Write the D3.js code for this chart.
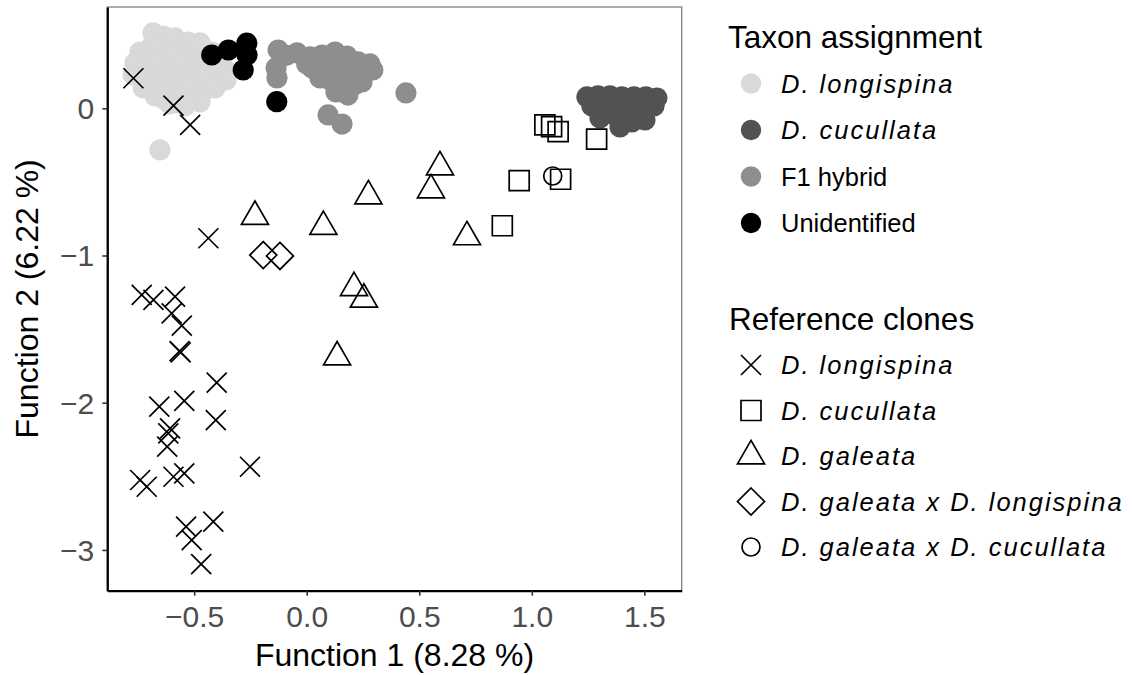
<!DOCTYPE html>
<html>
<head>
<meta charset="utf-8">
<script src="https://cdn.jsdelivr.net/npm/d3@7"></script>
<style>
  html, body { margin: 0; padding: 0; background: #ffffff; }
  svg { display: block; font-family: "Liberation Sans", Arial, Helvetica, sans-serif; }
</style>
</head>
<body>
<svg id="chart" width="1132" height="675"></svg>
<script>
// Axis limits and ticks
const xLimits = [-0.886, 1.666];
const yLimits = [-3.277, 0.688];
const xTicks = [-0.5, 0, 0.5, 1, 1.5];
const yTicks = [0, -1, -2, -3];
const xTitle = "Function 1 (8.28 %)";
const yTitle = "Function 2 (6.22 %)";

// Taxon assignment (filled circles), [Function 1, Function 2]
const taxonLabels = ["D. longispina", "D. cucullata", "F1 hybrid", "Unidentified"];
const taxonItalic = [true, true, false, false];
const taxonColors = ["#d9d9d9", "#525252", "#8e8e8e", "#000000"];

const taxonLongispina = [
  [-0.683, 0.512], [-0.638, 0.491], [-0.585, 0.478], [-0.527, 0.450], [-0.474, 0.444],
  [-0.741, 0.382], [-0.696, 0.410], [-0.643, 0.416], [-0.585, 0.396], [-0.527, 0.382],
  [-0.474, 0.396], [-0.421, 0.382], [-0.376, 0.342],
  [-0.763, 0.308], [-0.709, 0.315], [-0.652, 0.315], [-0.599, 0.308], [-0.541, 0.308],
  [-0.483, 0.315], [-0.429, 0.308], [-0.367, 0.274],
  [-0.771, 0.226], [-0.718, 0.240], [-0.660, 0.226], [-0.608, 0.219], [-0.549, 0.233],
  [-0.496, 0.226], [-0.438, 0.219], [-0.385, 0.206], [-0.358, 0.192],
  [-0.726, 0.138], [-0.674, 0.138], [-0.616, 0.124], [-0.563, 0.138], [-0.505, 0.145],
  [-0.452, 0.124], [-0.407, 0.138],
  [-0.674, 0.084], [-0.629, 0.056], [-0.572, 0.036], [-0.518, 0.056], [-0.474, 0.043],
  [-0.541, 0.016], [-0.608, 0.029],
  [-0.652, -0.283]
];

const taxonUnidentified = [
  [-0.422, 0.362], [-0.348, 0.396], [-0.266, 0.442], [-0.265, 0.362], [-0.282, 0.260],
  [-0.133, 0.045], [0.028, 0.328]
];

const taxonF1 = [
  [-0.127, 0.396], [-0.136, 0.274], [-0.132, 0.206], [-0.043, 0.376], [0.015, 0.349],
  [0.068, 0.362], [0.126, 0.382], [0.179, 0.355], [0.228, 0.315], [0.281, 0.301],
  [0.294, 0.260], [0.024, 0.274], [0.081, 0.281], [0.139, 0.287], [0.201, 0.247],
  [0.254, 0.233], [0.103, 0.192], [0.161, 0.179], [0.219, 0.165], [0.130, 0.111],
  [0.183, 0.090], [0.059, 0.206], [0.246, 0.179], [0.441, 0.104], [0.095, -0.045],
  [0.157, -0.107], [0.000, 0.300], [0.110, 0.330], [0.170, 0.300], [0.230, 0.270],
  [0.080, 0.230], [0.140, 0.230], [0.190, 0.200], [0.160, 0.130], [-0.090, 0.360]
];

const taxonCucullata = [
  [1.245, 0.077], [1.294, 0.084], [1.347, 0.084], [1.400, 0.077], [1.454, 0.077],
  [1.507, 0.077], [1.556, 0.070],
  [1.267, 0.016], [1.325, 0.022], [1.383, 0.029], [1.436, 0.016], [1.489, 0.022],
  [1.543, 0.016],
  [1.303, -0.066], [1.392, -0.127], [1.445, -0.093], [1.503, -0.079], [1.480, -0.025],
  [1.414, -0.046], [1.320, 0.060], [1.420, 0.050], [1.520, 0.040], [1.460, -0.050],
  [1.360, -0.040], [1.500, -0.020]
];

// Reference clones (open symbols)
const cloneLabels = ["D. longispina", "D. cucullata", "D. galeata",
                     "D. galeata x D. longispina", "D. galeata x D. cucullata"];

const cloneLongispina = [
  [-0.770, 0.204], [-0.592, 0.018], [-0.518, -0.113], [-0.437, -0.883],
  [-0.733, -1.268], [-0.681, -1.302], [-0.585, -1.280], [-0.600, -1.393], [-0.555, -1.477],
  [-0.565, -1.650], [-0.560, -1.658],
  [-0.400, -1.864], [-0.544, -1.988], [-0.655, -2.027], [-0.404, -2.118],
  [-0.607, -2.174], [-0.615, -2.208], [-0.620, -2.299],
  [-0.252, -2.435], [-0.740, -2.525], [-0.711, -2.571], [-0.592, -2.503], [-0.544, -2.480],
  [-0.536, -2.842], [-0.415, -2.808], [-0.511, -2.933], [-0.469, -3.096]
];

const cloneCucullata = [
  [1.058, -0.113], [1.088, -0.125], [1.117, -0.159], [1.288, -0.209],
  [0.944, -0.492], [1.128, -0.482], [0.869, -0.798]
];

const cloneGaleata = [
  [0.592, -0.399], [0.552, -0.555], [0.274, -0.596], [-0.230, -0.736], [0.074, -0.804],
  [0.712, -0.874], [0.210, -1.219], [0.254, -1.298], [0.135, -1.690]
];

const cloneGaleataLongispina = [
  [-0.193, -0.997], [-0.119, -1.003]
];

const cloneGaleataCucullata = [
  [1.093, -0.460]
];

// ---- drawing ----
const svg = d3.select("#chart");
const panel = { left: 107.3, right: 681.7, top: 7, bottom: 590.7 };

const x = d3.scaleLinear().domain(xLimits).range([panel.left, panel.right]);
const y = d3.scaleLinear().domain(yLimits).range([panel.bottom, panel.top]);

// Open symbol shapes; size = half-extent / side length in px
const shapeX = { draw(ctx, s) { ctx.moveTo(-s, -s); ctx.lineTo(s, s); ctx.moveTo(-s, s); ctx.lineTo(s, -s); } };
const shapeSquare = { draw(ctx, s) { ctx.rect(-s, -s, 2 * s, 2 * s); } };
const shapeTriangle = { draw(ctx, s) {
  const h = s * Math.sqrt(3) / 2;
  ctx.moveTo(0, -2 * h / 3); ctx.lineTo(s / 2, h / 3); ctx.lineTo(-s / 2, h / 3); ctx.closePath();
} };
const shapeDiamond = { draw(ctx, s) { ctx.moveTo(0, -s); ctx.lineTo(s, 0); ctx.lineTo(0, s); ctx.lineTo(-s, 0); ctx.closePath(); } };
const shapeCircle = { draw(ctx, s) { ctx.moveTo(s, 0); ctx.arc(0, 0, s, 0, 2 * Math.PI); } };

const cloneSeries = [
  { data: cloneLongispina, type: shapeX, size: 10 },
  { data: cloneCucullata, type: shapeSquare, size: 10 },
  { data: cloneGaleata, type: shapeTriangle, size: 27 },
  { data: cloneGaleataLongispina, type: shapeDiamond, size: 13.5 },
  { data: cloneGaleataCucullata, type: shapeCircle, size: 9 }
];

const taxonSeries = [
  { data: taxonLongispina, color: taxonColors[0] },
  { data: taxonUnidentified, color: taxonColors[3] },
  { data: taxonF1, color: taxonColors[2] },
  { data: taxonCucullata, color: taxonColors[1] }
];

const pointRadius = 10.6;
const strokeW = 1.7;

// panel border
svg.append("rect")
  .attr("x", panel.left).attr("y", panel.top)
  .attr("width", panel.right - panel.left).attr("height", panel.bottom - panel.top)
  .attr("fill", "none").attr("stroke", "#8a8a8a").attr("stroke-width", 1.4);

const plot = svg.append("g");

taxonSeries.forEach(s => {
  plot.append("g").selectAll("circle")
    .data(s.data).join("circle")
    .attr("cx", d => x(d[0])).attr("cy", d => y(d[1]))
    .attr("r", pointRadius).attr("fill", s.color);
});

cloneSeries.forEach(s => {
  const sym = d3.symbol().type(s.type).size(s.size);
  plot.append("g").selectAll("path")
    .data(s.data).join("path")
    .attr("transform", d => `translate(${x(d[0])},${y(d[1])})`)
    .attr("d", sym)
    .attr("fill", "none").attr("stroke", "#000").attr("stroke-width", strokeW);
});

// axes
const xAxis = svg.append("g")
  .attr("transform", `translate(0,${panel.bottom})`)
  .call(d3.axisBottom(x).tickValues(xTicks).tickFormat(d3.format(".1f")).tickSizeOuter(0).tickSizeInner(5));
const yAxis = svg.append("g")
  .attr("transform", `translate(${panel.left},0)`)
  .call(d3.axisLeft(y).tickValues(yTicks).tickFormat(d3.format("d")).tickSizeOuter(0).tickSizeInner(5));

[xAxis, yAxis].forEach(a => {
  a.select(".domain").attr("stroke", "#000").attr("stroke-width", 2.2);
  a.selectAll(".tick line").attr("stroke", "#333").attr("stroke-width", 1.6);
  a.selectAll(".tick text")
    .attr("fill", "#4d4d4d")
    .style("font-size", "30px")
    .style("font-family", "'Liberation Sans', Arial, sans-serif");
});
xAxis.selectAll(".tick text").attr("y", 36).attr("dy", null);
yAxis.selectAll(".tick text").attr("x", -13).attr("dy", "0.35em");

// axis titles
svg.append("text")
  .attr("x", (panel.left + panel.right) / 2).attr("y", 666)
  .attr("text-anchor", "middle").style("font-size", "32px").attr("fill", "#000")
  .text(xTitle);
svg.append("text")
  .attr("transform", `translate(38,${(panel.top + panel.bottom) / 2}) rotate(-90)`)
  .attr("text-anchor", "middle").style("font-size", "32px").attr("fill", "#000")
  .text(yTitle);

// legends
const legend = svg.append("g");
const symX0 = 751, textX0 = 781;

legend.append("text").attr("x", 728).attr("y", 48)
  .style("font-size", "31.5px").attr("fill", "#000").text("Taxon assignment");

const taxonRows = [83.5, 130, 176.5, 223];
taxonLabels.forEach((lab, i) => {
  legend.append("circle").attr("cx", symX0).attr("cy", taxonRows[i]).attr("r", 10.2)
    .attr("fill", taxonColors[i]);
  legend.append("text").attr("x", textX0).attr("y", taxonRows[i] + 9)
    .style("font-size", "25.5px")
    .style("font-style", taxonItalic[i] ? "italic" : "normal")
    .style("letter-spacing", taxonItalic[i] ? "2px" : "0px")
    .attr("fill", "#000").text(lab);
});

legend.append("text").attr("x", 729).attr("y", 330)
  .style("font-size", "31.5px").attr("fill", "#000").text("Reference clones");

const cloneRows = [365, 410.5, 456, 501.5, 547];
cloneLabels.forEach((lab, i) => {
  const s = cloneSeries[i];
  legend.append("path")
    .attr("transform", `translate(${symX0},${cloneRows[i]})`)
    .attr("d", d3.symbol().type(s.type).size(s.size))
    .attr("fill", "none").attr("stroke", "#000").attr("stroke-width", strokeW);
  legend.append("text").attr("x", textX0).attr("y", cloneRows[i] + 9)
    .style("font-size", "25.5px").style("font-style", "italic")
    .style("letter-spacing", "2px")
    .attr("fill", "#000").text(lab);
});
</script>
</body>
</html>
